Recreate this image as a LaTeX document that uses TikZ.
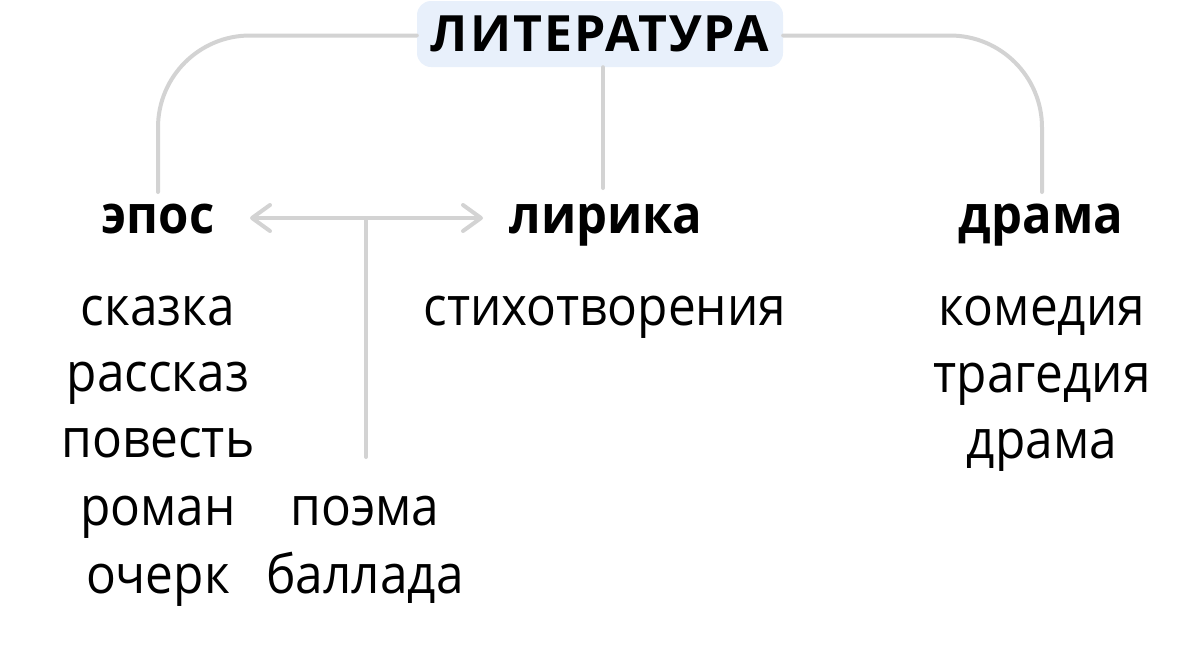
\documentclass[tikz,border=0pt]{standalone}
\usepackage{fontspec}
\setmainfont{Open Sans}
\usetikzlibrary{arrows.meta}
\definecolor{linegray}{HTML}{D3D3D3}
\definecolor{titlefill}{HTML}{E8F0FB}
\newcommand{\narrowtxt}[1]{\scalebox{0.918}[1]{#1}}
\newcommand{\narrowhead}[1]{\scalebox{0.925}[1]{#1}}
\begin{document}
\begin{tikzpicture}[x=1pt,y=-1pt,
  conn/.style={draw=linegray,line width=4pt,line cap=round},
  titlebox/.style={fill=titlefill,rounded corners=14pt,minimum width=366pt,minimum height=66pt,inner sep=0pt,
    font=\fontsize{50}{60}\selectfont\bfseries},
  head/.style={anchor=base,inner sep=0pt,font=\fontsize{53}{64}\selectfont\bfseries},
  item/.style={anchor=base,inner sep=0pt,font=\fontsize{54}{65}\selectfont},
  >={Straight Barb[length=18pt,width=26pt,round]}
]
\useasboundingbox (0,0) rectangle (1200,654);
\node[titlebox] (title) at (600,34) {\addfontfeature{LetterSpace=4}ЛИТЕРАТУРА};

\node[head] (epos) at (158,233) {\narrowhead{эпос}};
\node[head] (lirika) at (606,233) {\narrowhead{лирика}};
\node[head] (drama) at (1041,233) {\narrowhead{драма}};

\node[item] (e1) at (158,325) {\narrowtxt{сказка}};
\node[item] (e2) at (158,391) {\narrowtxt{рассказ}};
\node[item] (e3) at (158,457) {\narrowtxt{повесть}};
\node[item] (e4) at (158,525) {\narrowtxt{роман}};
\node[item] (e5) at (158,593) {\narrowtxt{очерк}};
\node[item] (p1) at (365,525) {\narrowtxt{поэма}};
\node[item] (p2) at (365,593) {\narrowtxt{баллада}};
\node[item] (l1) at (605,325) {\narrowtxt{стихотворения}};
\node[item] (d1) at (1042,325) {\narrowtxt{комедия}};
\node[item] (d2) at (1042,392) {\narrowtxt{трагедия}};
\node[item] (d3) at (1042,458) {\narrowtxt{драма}};

\coordinate (eposTop) at (158,192);
\coordinate (lirTop) at (603,188);
\coordinate (dramaTop) at (1042,192);
\coordinate (aL) at (250,218);
\coordinate (aR) at (483,218);
\coordinate (aJ) at (366,218);
\coordinate (aB) at (366,457);

\draw[conn,rounded corners=92pt] ([yshift=-1.5pt]title.west) -| (eposTop);
\draw[conn,rounded corners=92pt] ([yshift=-1.5pt]title.east) -| (dramaTop);
\draw[conn] (lirTop |- title.south) -- (lirTop);
\draw[conn,<->] (aL) -- (aR);
\draw[conn] (aJ) -- (aB);
\end{tikzpicture}
\end{document}
